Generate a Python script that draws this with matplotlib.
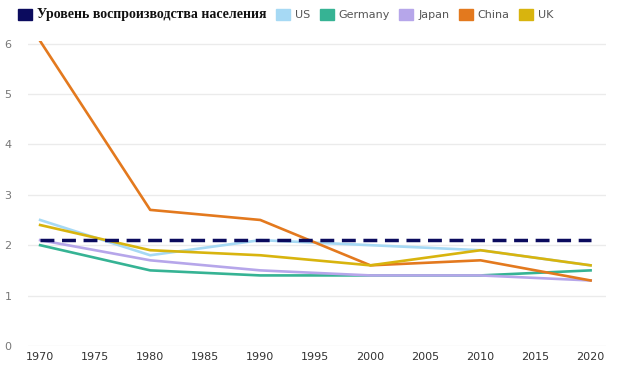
import matplotlib
matplotlib.use("Agg")
import matplotlib.pyplot as plt
from matplotlib.patches import Patch

years = [1970, 1980, 1990, 2000, 2010, 2020]
replacement = [2.1, 2.1, 2.1, 2.1, 2.1, 2.1]
us = [2.5, 1.8, 2.1, 2.0, 1.9, 1.6]
germany = [2.0, 1.5, 1.4, 1.4, 1.4, 1.5]
japan = [2.1, 1.7, 1.5, 1.4, 1.4, 1.3]
china = [6.05, 2.7, 2.5, 1.6, 1.7, 1.3]
uk = [2.4, 1.9, 1.8, 1.6, 1.9, 1.6]

legend_labels = ["Уровень воспроизводства населения", "US", "Germany", "Japan", "China", "UK"]
xticks = list(range(1970, 2021, 5))
yticks = [0, 1, 2, 3, 4, 5, 6]

c_rep = "#0b0b5e"
c_us = "#a6d9f4"
c_de = "#36b394"
c_jp = "#b6a6ea"
c_cn = "#e3791e"
c_uk = "#d8b40e"

fig = plt.figure(figsize=(6.2, 3.85), dpi=100)
ax = fig.add_axes([28/620, 1 - 346/385, (606-28)/620, (346-41)/385])

ax.plot(years, us, color=c_us, lw=1.9, zorder=3)
ax.plot(years, germany, color=c_de, lw=1.9, zorder=3)
ax.plot(years, japan, color=c_jp, lw=1.9, zorder=3)
ax.plot(years, china, color=c_cn, lw=1.9, zorder=4)
ax.plot(years, uk, color=c_uk, lw=1.9, zorder=4)
ax.plot(years, replacement, color=c_rep, lw=2.5, ls=(0, (4, 2.2)), zorder=5)

ax.set_xlim(1968.9, 2021.4)
ax.set_ylim(0, 6.05)
ax.set_xticks(xticks)
ax.set_yticks(yticks)
ax.grid(axis="y", color="#ebebeb", lw=1)
ax.set_axisbelow(True)
for s in ax.spines.values():
    s.set_visible(False)
ax.tick_params(length=0, colors="#777777", labelsize=8)
ax.tick_params(axis="x", pad=4)
ax.yaxis.set_tick_params(pad=17)
for lab in ax.get_yticklabels():
    lab.set_horizontalalignment("left")
for lab in ax.get_xticklabels():
    lab.set_color("#333333")

handles = [Patch(color=c) for c in [c_rep, c_us, c_de, c_jp, c_cn, c_uk]]
leg = fig.legend(handles, legend_labels, loc="upper left", bbox_to_anchor=(10/620, 1.0),
                 ncol=6, frameon=False, handlelength=1.25, handleheight=1.25,
                 handletextpad=0.45, columnspacing=0.85, fontsize=8, borderaxespad=0.35)
texts = leg.get_texts()
texts[0].set_fontfamily("Liberation Serif")
texts[0].set_fontweight("bold")
texts[0].set_fontsize(10)
texts[0].set_color("#111111")
for t in texts[1:]:
    t.set_color("#555555")

fig.savefig("out.png", dpi=100)
